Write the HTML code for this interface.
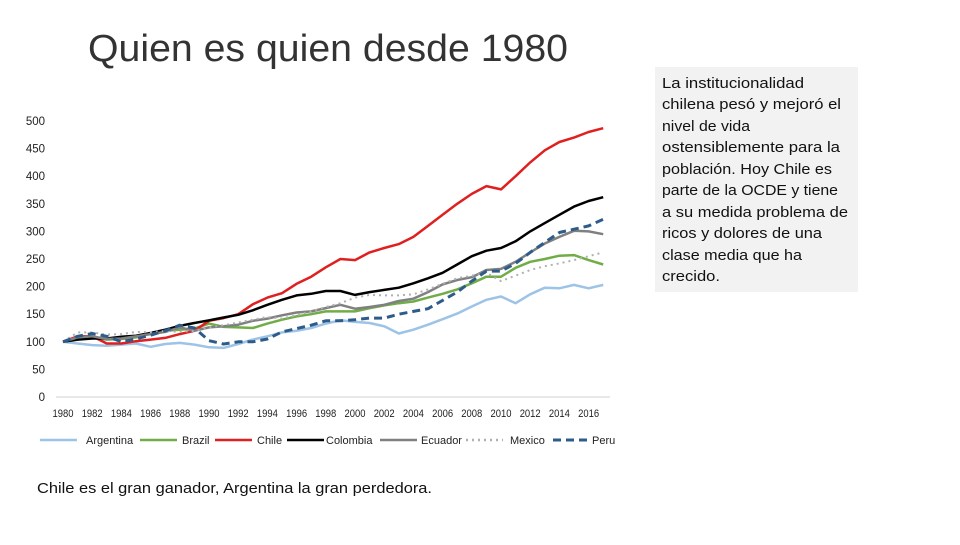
<!DOCTYPE html>
<html><head><meta charset="utf-8"><style>
body{margin:0;width:960px;height:540px;background:#fff;overflow:hidden;font-family:"Liberation Sans",sans-serif}
</style></head><body>
<svg id="root" width="960" height="540" xmlns="http://www.w3.org/2000/svg">
<text x="88" y="61" font-size="38" fill="#333" textLength="480" lengthAdjust="spacingAndGlyphs">Quien es quien desde 1980</text>
<rect x="655" y="67" width="203" height="225" fill="#f2f2f2"/>
<g font-size="14.5" fill="#111">
<text x="662" y="88" textLength="142" lengthAdjust="spacingAndGlyphs">La institucionalidad</text>
<text x="662" y="109" textLength="179" lengthAdjust="spacingAndGlyphs">chilena pesó y mejoró el</text>
<text x="662" y="131" textLength="88" lengthAdjust="spacingAndGlyphs">nivel de vida</text>
<text x="662" y="152" textLength="178" lengthAdjust="spacingAndGlyphs">ostensiblemente para la</text>
<text x="662" y="174" textLength="170" lengthAdjust="spacingAndGlyphs">población. Hoy Chile es</text>
<text x="662" y="195" textLength="176" lengthAdjust="spacingAndGlyphs">parte de la OCDE y tiene</text>
<text x="662" y="217" textLength="186" lengthAdjust="spacingAndGlyphs">a su medida problema de</text>
<text x="662" y="238" textLength="160" lengthAdjust="spacingAndGlyphs">ricos y dolores de una</text>
<text x="662" y="260" textLength="140" lengthAdjust="spacingAndGlyphs">clase media que ha</text>
<text x="662" y="281" textLength="58" lengthAdjust="spacingAndGlyphs">crecido.</text>
</g>
<text x="37" y="493" font-size="14.5" fill="#111" textLength="395" lengthAdjust="spacingAndGlyphs">Chile es el gran ganador, Argentina la gran perdedora.</text>
<g id="chart"></g>
</svg>
<script>
const years=[];for(let y=1980;y<=2017;y++)years.push(y);
const yTicks=[0,50,100,150,200,250,300,350,400,450,500];
const xTickLabels=[1980,1982,1984,1986,1988,1990,1992,1994,1996,1998,2000,2002,2004,2006,2008,2010,2012,2014,2016];
const argentina=[100,97,94,93,95,97,91,96,98,95,90,89,96,104,110,117,120,125,133,139,136,134,128,115,122,131,141,151,164,176,182,170,186,198,197,203,197,203];
const brazil=[100,108,108,104,105,108,115,120,122,124,133,127,126,125,133,140,146,150,155,155,155,161,166,170,173,180,187,195,206,218,218,234,245,250,256,257,248,240];
const chile=[100,110,110,97,97,101,104,107,114,120,138,143,150,168,180,188,205,218,235,250,248,262,270,277,290,310,330,350,368,382,376,400,425,447,462,470,480,487];
const colombia=[100,104,106,106,109,111,116,122,129,134,139,144,149,157,167,176,184,187,192,192,185,190,194,198,206,215,225,240,255,265,270,282,300,315,330,345,355,362];
const ecuador=[100,108,110,105,106,110,114,118,126,120,126,128,131,138,142,148,153,155,161,167,160,163,167,174,178,190,204,212,217,230,232,245,262,278,290,301,300,295];
const mexico=[100,117,117,113,114,118,117,120,118,120,126,130,135,140,145,142,148,155,163,170,180,185,184,184,186,195,205,215,220,225,210,220,230,237,242,248,255,262];
const peru=[100,110,115,110,100,105,112,120,130,125,102,96,100,100,105,118,124,130,138,138,140,143,143,150,155,160,175,190,210,228,228,242,262,280,298,304,310,322];
const seriesNames=["Argentina","Brazil","Chile","Colombia","Ecuador","Mexico","Peru"];
const seriesData=[argentina,brazil,chile,colombia,ecuador,mexico,peru];
const colors=["#9dc3e6","#70ad47","#e02020","#000000","#808080","#b0b0b0","#2e5c8a"];
const dashes=["","","","","","2 4","8 5"];
const NS="http://www.w3.org/2000/svg";
const g=document.getElementById('chart');
const x=v=>63+(v-1980)*14.6;
const y=v=>397-v*0.552;
function mk(t,a,p){const e=document.createElementNS(NS,t);for(const k in a)e.setAttribute(k,a[k]);(p||g).appendChild(e);return e;}
const ax=mk('line',{x1:56,x2:610,y1:y(0),y2:y(0),stroke:'#d0d0d0','stroke-width':1});


yTicks.forEach(t=>{const e=mk('text',{x:45,y:y(t)+4,'font-size':11.5,'text-anchor':'end',fill:'#222'});e.textContent=t;

});
xTickLabels.forEach(t=>{const e=mk('text',{x:x(t)-10.5,y:417,'font-size':11,fill:'#222',textLength:21,lengthAdjust:'spacingAndGlyphs'});e.textContent=t;

});
seriesData.forEach((d,i)=>{const pts=d.map((v,j)=>x(years[j]).toFixed(1)+','+y(v).toFixed(1)).join(' ');
const p=mk('polyline',{points:pts,fill:'none',stroke:colors[i],'stroke-width':i==6?3:(i==5?2:2.5),'stroke-dasharray':dashes[i],'stroke-linejoin':'round'});

});
const legLine=[40,140,215,287,380,466,553];
const legText=[86,182,257,326,421,510,592];
seriesNames.forEach((n,i)=>{const lg=mk('g',{});


mk('line',{x1:legLine[i],x2:legLine[i]+37,y1:440,y2:440,stroke:colors[i],'stroke-width':i==6?3:2.5,'stroke-dasharray':dashes[i]},lg);
const t=mk('text',{x:legText[i],y:444,'font-size':11,fill:'#222'},lg);t.textContent=n;});
</script>
</body></html>
